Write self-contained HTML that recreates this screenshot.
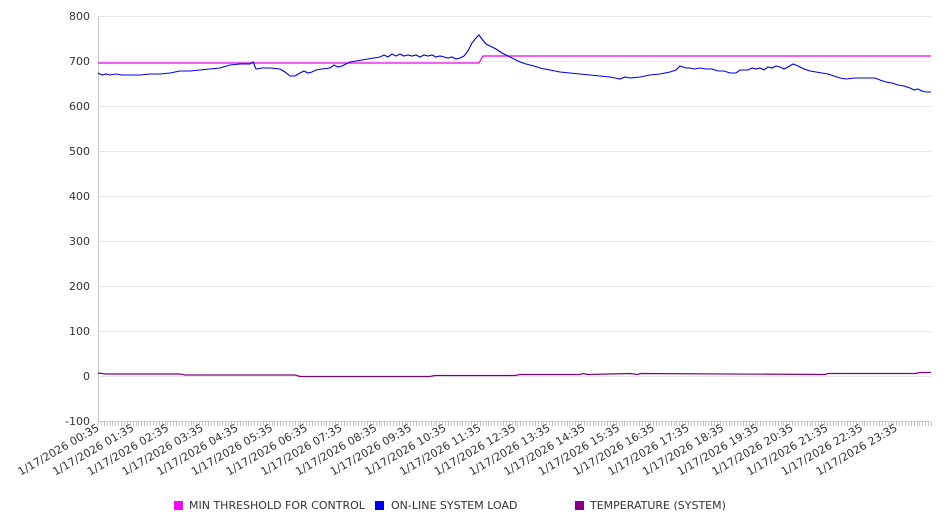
<!DOCTYPE html>
<html><head><meta charset="utf-8"><style>
html,body{margin:0;padding:0;background:#fff;}
svg{display:block;font-family:"DejaVu Sans","Liberation Sans",sans-serif;}
</style></head><body>
<svg id="s" width="946" height="526" viewBox="0 0 946 526" xmlns="http://www.w3.org/2000/svg">
<g id="grid" stroke="#e6e6e6" stroke-width="1"></g>
<line x1="98.5" y1="16" x2="98.5" y2="421" stroke="#c8c8c8"/>
<line x1="98" y1="421.5" x2="931" y2="421.5" stroke="#c8c8c8"/>
<g id="ticks" stroke="#c8c8c8"></g>
<g id="ylab" font-size="11" fill="#333" text-anchor="end"></g>
<g id="xlab" font-size="11" fill="#333" text-anchor="end"></g>
<polyline fill="none" stroke="#ee00ee" stroke-width="1.2" points="98,63 479,63 483,56 931,56"/>
<polyline fill="none" stroke="#800080" stroke-width="1.2" points="98,373 106,374 180,374 185,375 295,375 300,376.5 430,376.5 435,375.5 515,375.5 520,374.5 580,374.5 583,373.5 588,374.5 630,373.5 638,374.5 640,373.5 825,374.5 828,373.5 915,373.5 920,372.5 931,372.5"/>
<polyline fill="none" stroke="#0000dd" stroke-width="1.1" points="98,73 102,75 106,74 110,75 116,74 122,75 130,75 140,75 150,74 160,74 170,73 180,71 190,71 200,70 210,69 220,68 230,65 240,64 250,64 253,62 256,69 262,68 270,68 280,69 285,72 290,76 295,76 300,73 304,71 308,73 312,72 316,70 322,69 330,68 334,65 338,67 342,66 346,64 350,62 356,61 362,60 368,59 374,58 380,57 384,55 388,57 392,54 396,56 400,54 404,56 408,55 412,56 416,55 420,57 424,55 428,56 432,55 436,57 440,56 444,57 448,58 452,57 456,59 460,58 464,56 468,51 472,43 476,38 479,35 482,39 486,44 490,46 496,49 502,53 508,56 514,59 520,62 526,64 534,66 540,68 550,70 560,72 570,73 580,74 590,75 600,76 610,77 615,78 620,79 625,77 630,78 640,77 650,75 660,74 670,72 676,70 680,66 686,68 690,68 694,69 700,68 706,69 712,69 718,71 724,71 730,73 736,73 740,70 748,70 752,68 756,69 760,68 764,70 768,67 772,68 776,66 780,67 784,69 788,67 793,64 798,66 804,69 810,71 816,72 822,73 828,74 834,76 840,78 846,79 855,78 865,78 875,78 880,80 886,82 892,83 898,85 904,86 910,88 914,90 918,89 922,91 926,92 931,92"/>
<g font-size="11" fill="#333">
<rect x="174" y="501" width="9" height="9" fill="#ff00ff"/><text x="189" y="509">MIN THRESHOLD FOR CONTROL</text>
<rect x="375" y="501" width="9" height="9" fill="#0000ee"/><text x="391" y="509">ON-LINE SYSTEM LOAD</text>
<rect x="575" y="501" width="9" height="9" fill="#800080"/><text x="590" y="509">TEMPERATURE (SYSTEM)</text>
</g>
</svg>
<script>
var NS="http://www.w3.org/2000/svg";
function el(p,t,a,txt){var e=document.createElementNS(NS,t);for(var k in a)e.setAttribute(k,a[k]);if(txt!==undefined)e.textContent=txt;document.getElementById(p).appendChild(e);}
for(var i=0;i<=9;i++){var v=800-i*100,y=16+i*45;
 if(i<9)el("grid","line",{x1:99,x2:931,y1:y+0.5,y2:y+0.5});
 el("ylab","text",{x:90,y:y+4},String(v));}
var step=833/288;
for(var j=0;j<=288;j++){var x=Math.round(98+j*step)+0.5;el("ticks","line",{x1:x,x2:x,y1:422,y2:426});}
for(var h=0;h<24;h++){var x=98+h*34.7+2;var hh=(h<10?"0":"")+h;
 el("xlab","text",{x:x,y:430,transform:"rotate(-30 "+x+" 430)"},"1/17/2026 "+hh+":35");}
</script>
</body></html>
